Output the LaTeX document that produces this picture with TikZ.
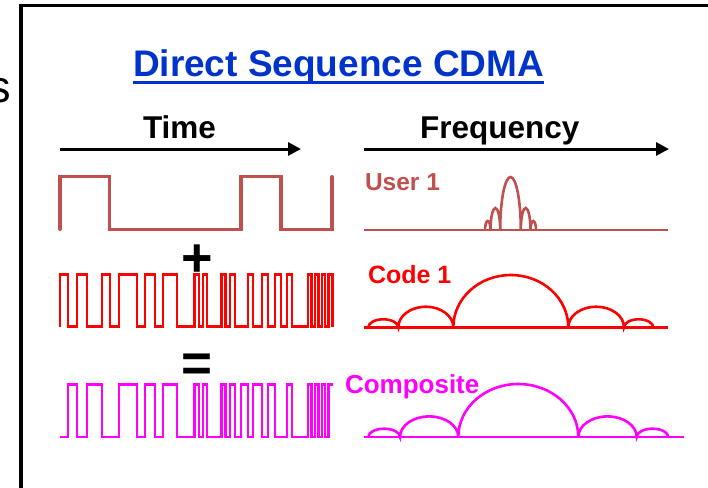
\documentclass[tikz,border=0pt]{standalone}
\usepackage{fontspec}
\setmainfont{Liberation Sans}
\usetikzlibrary{arrows.meta}
\definecolor{titleblue}{RGB}{0,51,204}
\definecolor{userred}{RGB}{192,80,77}
\definecolor{codered}{RGB}{255,0,0}
\definecolor{compmag}{RGB}{255,0,255}
\tikzset{
  txt/.style={inner sep=0pt, outer sep=0pt, anchor=base west},
  wave/.style={line width=2.3pt, line join=miter},
  spec/.style={line width=2.6pt},
  axis/.style={line width=3pt, -{Triangle[length=13pt,width=13pt]}},
}
\begin{document}
\begin{tikzpicture}[x=1pt,y=-1pt]
\useasboundingbox (0,0) rectangle (708,487);
% frame
\draw[line width=3.5pt, line join=miter] (21,495) -- (21,5.5) -- (715,5.5);
\node[txt, font=\fontsize{45}{45}\selectfont] (sletter) at (-12,102) {s};
% title
\node[txt, text=titleblue, font=\bfseries\fontsize{37}{37}\selectfont] (title) at (133,76) {Direct Sequence CDMA};
\draw[titleblue, line width=3.5pt] ([yshift=-6.5pt]title.base west) -- ([yshift=-6.5pt]title.base east);
% headings and axes
\node[txt, font=\bfseries\fontsize{31.5}{31.5}\selectfont] (time) at (143,138) {Time};
\node[txt, font=\bfseries\fontsize{31.5}{31.5}\selectfont] (freq) at (420,138) {Frequency};
\coordinate (ta) at (60,149);
\coordinate (tb) at (301,149);
\coordinate (fa) at (364,149);
\coordinate (fb) at (669,149);
\draw[axis] (ta) -- (tb);
\draw[axis] (fa) -- (fb);
% labels
\node[txt, text=userred, font=\bfseries\fontsize{24.5}{24.5}\selectfont] (user) at (365,190.5) {User 1};
\node[txt, text=codered, font=\bfseries\fontsize{25}{25}\selectfont] (code) at (368,283.3) {Code 1};
\node[txt, text=compmag, font=\bfseries\fontsize{26}{26}\selectfont] (comp) at (345,393) {Composite};
\node[txt, font=\bfseries\fontsize{54}{54}\selectfont] (plus) at (181,276) {+};
\node[txt, font=\bfseries\fontsize{53}{53}\selectfont] (eq) at (181,381) {=};
% user data waveform
\draw[wave, userred, line width=3.3pt, line cap=round] (60,229.3) |- (109.5,176.7) |- (241,229.3) |- (281,176.7) |- (332,229.3) -- (332,176.7);
% code waveform
\draw[wave, codered] (60,326.5) |- (68.3,274.5) |- (76.7,326.5) |- (86.7,274.5) |- (101.7,326.5) |- (110,274.5) |- (119,326.5) |- (137,274.5) |- (145,326.5) |- (155,274.5) |- (163.3,326.5) |- (177,274.5) |- (194.5,326.5) |- (198.8,274.5) |- (202.8,326.5) |- (207,274.5) |- (221.5,326.5) |- (225.5,274.5) |- (229.8,326.5) |- (235,274.5) |- (248.3,326.5) |- (253.3,274.5) |- (261.7,326.5) |- (268.3,274.5) |- (275,326.5) |- (281,274.5) |- (286.7,326.5) |- (291.7,274.5) |- (307.8,326.5) |- (311.6,274.5) |- (314.9,326.5) |- (318.5,274.5) |- (321.8,326.5) |- (325.3,274.5) |- (328.6,326.5) |- (332.5,274.5) -- (332.5,326.5);
% composite waveform
\draw[wave, compmag] (60,437) -- (68.3,437) |- (76.7,384.5) |- (86.7,437) |- (101.7,384.5) |- (119,437) |- (137,384.5) |- (145,437) |- (155,384.5) |- (163.3,437) |- (177,384.5) |- (194.5,437) |- (198.8,384.5) |- (202.8,437) |- (207,384.5) |- (221.5,437) |- (225.5,384.5) |- (229.8,437) |- (235,384.5) |- (241,437) |- (248.3,384.5) |- (253.3,437) |- (261.7,384.5) |- (268.3,437) |- (275,384.5) |- (286.7,437) |- (291.7,384.5) |- (307.8,437) |- (311.6,384.5) |- (314.9,437) |- (318.5,384.5) |- (321.8,437) |- (325.3,384.5) |- (328.6,437) |- (332.5,384.5);
% user spectrum
\draw[spec, userred] (364,230) -- (668,230);
\draw[spec, userred] (485,230) arc[start angle=180,end angle=0,x radius=2.75pt,y radius=9pt]
  arc[start angle=180,end angle=0,x radius=4.85pt,y radius=22pt]
  arc[start angle=180,end angle=0,x radius=10.3pt,y radius=53pt]
  arc[start angle=180,end angle=0,x radius=4.85pt,y radius=22pt]
  arc[start angle=180,end angle=0,x radius=2.75pt,y radius=9pt];
% code spectrum
\draw[spec, codered] (364,327.3) -- (668,327.3);
\draw[spec, codered] (368.3,327.3) arc[start angle=180,end angle=0,x radius=15pt,y radius=8pt]
  arc[start angle=180,end angle=0,x radius=27.5pt,y radius=20.6pt]
  arc[start angle=180,end angle=0,x radius=57.5pt,y radius=52.3pt]
  arc[start angle=180,end angle=0,x radius=27.85pt,y radius=20.6pt]
  arc[start angle=180,end angle=0,x radius=14.65pt,y radius=8pt];
% composite spectrum
\draw[spec, compmag] (364,437) -- (683.5,437);
\draw[spec, compmag] (368.3,437) arc[start angle=180,end angle=0,x radius=15.85pt,y radius=8.3pt]
  arc[start angle=180,end angle=0,x radius=29.15pt,y radius=20.6pt]
  arc[start angle=180,end angle=0,x radius=60pt,y radius=53pt]
  arc[start angle=180,end angle=0,x radius=29.2pt,y radius=20.6pt]
  arc[start angle=180,end angle=0,x radius=15.8pt,y radius=8.3pt];
\end{tikzpicture}
\end{document}
